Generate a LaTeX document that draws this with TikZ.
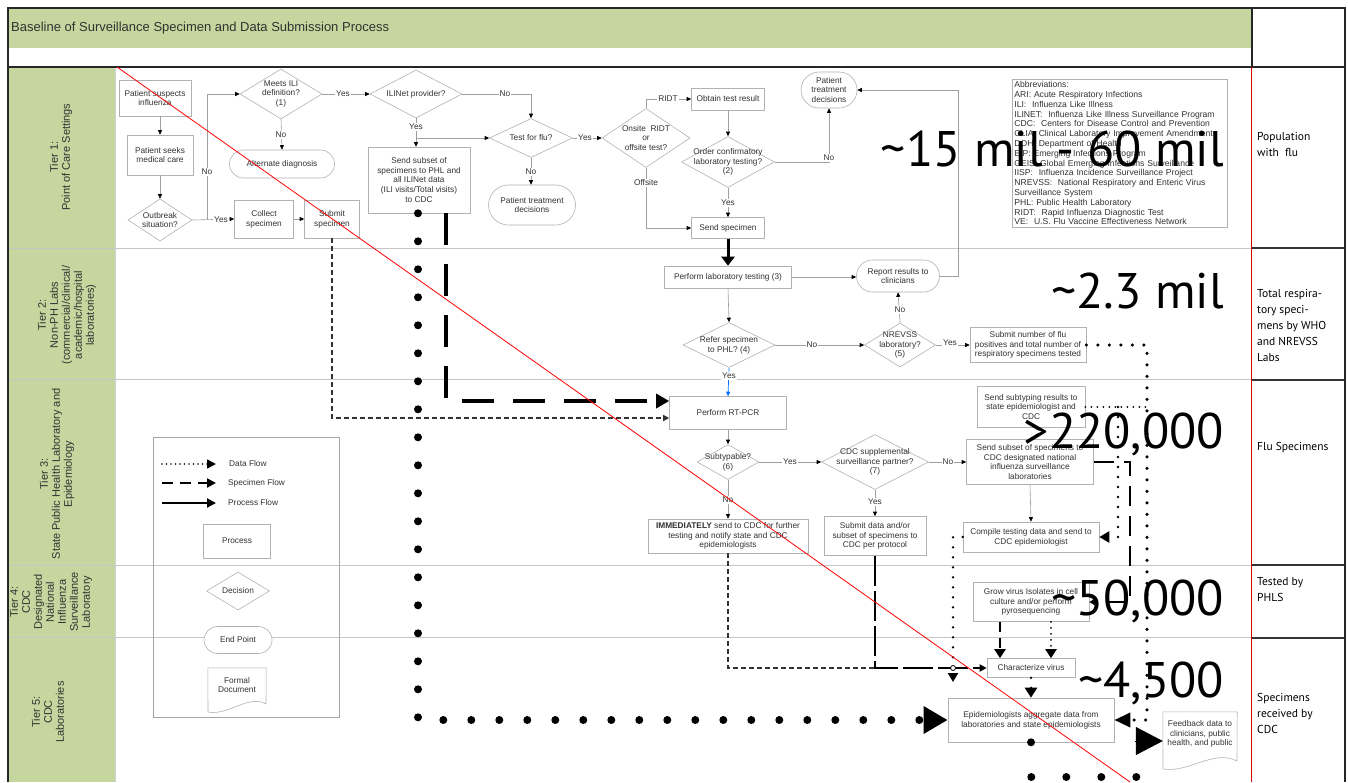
\documentclass[tikz,border=0pt]{standalone}
\usepackage{fontspec}
\setmainfont{Liberation Sans}
\newfontfamily\ptsans{PT Sans}
\usetikzlibrary{arrows.meta,shapes.geometric,shapes.misc,calc}
\definecolor{tgreen}{RGB}{197,214,158}
\definecolor{txtc}{RGB}{50,50,50}
\newcommand\nodef{\fontsize{8.3}{9.8}\selectfont}
\newcommand\tierf{\fontsize{11}{12}\selectfont}
\newcommand\rcolf{\ptsans\fontsize{11.5}{16}\selectfont}
\newcommand\bignumf{\ptsans\fontsize{50}{50}\selectfont}
\newcommand\mknode[6]{\node[#1, minimum width=#4pt, minimum height=#5pt] (#2) at (#3) {};
  \node[txt] (#2t) at (#2.center) {#6};}
\tikzset{
 proc/.style={rectangle, draw=gray!60, line width=0.6pt, fill=white, inner sep=0pt},
 dec/.style={diamond, draw=gray!60, line width=0.6pt, fill=white, inner sep=0pt},
 term/.style={rounded rectangle, draw=gray!60, line width=0.6pt, fill=white, inner sep=0pt},
 txt/.style={align=center, font=\nodef, text=txtc, inner sep=0pt},
 lbl/.style={font=\nodef, fill=white, inner sep=1pt, text=txtc},
 cn/.style={draw=gray!75, line width=0.6pt, -{Triangle[length=4.5pt,width=4pt,color=black]}},
 bigdot/.style={black, line width=8pt, line cap=round, dash pattern=on 0pt off 28pt},
 bigdotb/.style={black, line width=8pt, line cap=round, dash pattern=on 0pt off 35pt},
 dotm/.style={black, line width=3.5pt, line cap=round, dash pattern=on 0pt off 11.5pt},
 dotsm/.style={black, line width=2.6pt, line cap=round, dash pattern=on 0pt off 10pt},
 dotxs/.style={black, line width=2pt, line cap=round, dash pattern=on 0pt off 6pt},
 bigdash/.style={black, line width=4.5pt, dash pattern=on 32pt off 19pt},
 mdash/.style={black, line width=2.8pt, dash pattern=on 20pt off 10pt},
 ldash/.style={black, line width=2.2pt, dash pattern=on 30pt off 5pt},
 tdash/.style={black!80, line width=1.3pt, dash pattern=on 5pt off 3pt},
 tierl/.style={rotate=90, align=center, font=\tierf, text=txtc, inner sep=0pt},
 rtxt/.style={font=\rcolf, anchor=west, align=left, inner sep=0pt, text=black},
 bign/.style={font=\bignumf, anchor=base east, inner sep=0pt, text=black}
}
\begin{document}
\begin{tikzpicture}[x=1pt,y=-1pt]
\useasboundingbox (0,0) rectangle (1348,782);
\fill[white] (0,0) rectangle (1348,782);
\fill[tgreen] (9,9) rectangle (1251,48);
\fill[tgreen] (9,67) rectangle (115,782);
\node[anchor=west, font=\fontsize{13}{15}\selectfont, text=txtc, inner sep=0pt] (title) at (11,28) {Baseline of Surveillance Specimen and Data Submission Process};
% lanes
\foreach \yy in {248,379,565,637} \draw[gray!45, line width=0.8pt] (9,\yy) -- (1251,\yy);
\draw[gray!35, line width=0.6pt] (115,67) -- (115,782);
% tier labels
\node[tierl] (t1) at (61,157) {Tier 1:\\Point of Care Settings};
\node[tierl] (t2) at (67,315) {Tier 2:\\Non-PH Labs\\(commercial/clinical/\\academic/hospital\\laboratories)};
\node[tierl] (t3) at (57,474) {Tier 3:\\State Public Health Laboratory and\\Epidemiology};
\node[tierl] (t4) at (51,602) {Tier 4:\\CDC\\Designated\\National\\Influenza\\Surveillance\\Laboratory};
\node[tierl] (t5) at (48,712) {Tier 5:\\CDC\\Laboratories};
% tier 1 nodes
\mknode{proc}{psi}{155,98}{72}{36}{Patient suspects\\influenza}
\mknode{proc}{psm}{160,155}{66}{40}{Patient seeks\\medical care}
\mknode{dec}{ob}{160,220}{64}{42}{Outbreak\\situation?}
\mknode{dec}{ili}{281,94}{82}{50}{Meets ILI\\definition?\\(1)}
\mknode{term}{alt}{282,164}{105}{28}{Alternate diagnosis}
\mknode{proc}{col}{264,219}{59}{38}{Collect\\specimen}
\mknode{proc}{sub}{332,219}{55}{38}{Submit\\specimen}
\mknode{dec}{iln}{416,94}{92}{48}{ILINet provider?}
\mknode{proc}{ssp}{419,180}{102}{66}{Send subset of\\specimens to PHL and\\all ILINet data\\(ILI visits/Total visits)\\to CDC}
\mknode{dec}{tfl}{531,138}{83}{39}{Test for flu?}
\mknode{term}{ptd}{532,205}{87}{40}{Patient treatment\\decisions}
\mknode{dec}{ons}{646,138}{88}{59}{Onsite~ RIDT\\or\\offsite test?}
\mknode{proc}{otr}{728,99}{73}{22}{Obtain test result}
\mknode{dec}{ocf}{728,162}{93}{51}{Order confirmatory\\laboratory testing?\\(2)}
\mknode{proc}{ssn}{728,228}{73}{21}{Send specimen}
\mknode{term}{ptd2}{829,90}{56}{36}{Patient\\treatment\\decisions}
\node[draw=gray!60, line width=0.8pt, anchor=north west, inner sep=2pt, text width=211pt, align=left, font=\fontsize{8.6}{9.8}\selectfont, text=txtc] (abbr) at (1012,79) {Abbreviations:\\ARI: Acute Respiratory Infections\\ILI:~ Influenza Like Illness\\ILINET:~ Influenza Like Illness Surveillance Program\\CDC:~ Centers for Disease Control and Prevention\\CLIA: Clinical Laboratory Improvement Amendments\\DOH: Department of Health\\EIP: Emerging Infections Program\\GEIS: Global Emerging Infections Surveillance\\IISP:~ Influenza Incidence Surveillance Project\\NREVSS:~ National Respiratory and Enteric Virus\\Surveillance System\\PHL: Public Health Laboratory\\RIDT:~ Rapid Influenza Diagnostic Test\\VE:~ U.S. Flu Vaccine Effectiveness Network};
% tier 2 nodes
\mknode{proc}{plt}{728,277}{127}{22}{Perform laboratory testing (3)}
\mknode{term}{rrc}{898,276}{83}{32}{Report results to\\clinicians}
\mknode{dec}{rsp}{729,345}{92}{45}{Refer specimen\\to PHL? (4)}
\mknode{dec}{nrv}{900,345}{71}{44}{NREVSS\\laboratory?\\(5)}
\mknode{proc}{snf}{1028,345}{116}{35}{Submit number of flu\\positives and total number of\\respiratory specimens tested}
% tier 3 nodes
\mknode{proc}{rtp}{728,413}{117}{33}{Perform RT-PCR}
\mknode{dec}{stp}{728,462}{62}{35}{Subtypable?\\(6)}
\mknode{dec}{csp}{875,462}{107}{55}{CDC supplemental\\surveillance partner?\\(7)}
\mknode{proc}{ssc}{1030,462}{127}{45}{Send subset of specimens to\\CDC designated national\\influenza surveillance\\laboratories}
\mknode{proc}{sst}{1031,407}{108}{41}{Send subtyping results to\\state epidemiologist and\\CDC}
\mknode{proc}{imm}{728,536}{160}{34}{\textbf{IMMEDIATELY} send to CDC for further\\testing and notify state and CDC\\epidemiologists}
\mknode{proc}{sdt}{875,536}{102}{39}{Submit data and/or\\subset of specimens to\\CDC per protocol}
\mknode{proc}{cmp}{1031,537}{136}{30}{Compile testing data and send to\\CDC epidemiologist}
% tier 4/5 nodes
\mknode{proc}{grw}{1031,602}{116}{39}{Grow virus Isolates in cell\\culture and/or perform\\pyrosequencing}
\mknode{proc}{chr}{1031,668}{88}{19}{Characterize virus}
\mknode{proc}{epi}{1031,720}{166}{44}{Epidemiologists aggregate data from\\laboratories and state epidemiologists}
\node[minimum width=74pt, minimum height=58pt, inner sep=0pt] (fbk) at (1200,741) {};
\draw[gray!60, line width=0.6pt, fill=white] (fbk.north west) -- (fbk.north east) -- (1237,761) .. controls (1213,749) and (1190,773) .. (1163,769) -- cycle;
\node[txt] (fbkt) at (1200,734) {Feedback data to\\clinicians, public\\health, and public};
% tier 1 connectors
\draw[cn] (psi.south -| psm) -- (psm.north);
\draw[cn] (psm.south) -- (ob.north);
\coordinate (j1) at (207,220);
\draw[cn] (ob.east) -- (col.west);
\draw[cn] (j1) |- (ili.west);
\node[lbl] (l1) at (221,220) {Yes};
\node[lbl] (l2) at (207,172) {No};
\draw[cn] (ili.east) -- (iln.west);
\node[lbl] (l3) at (343,94) {Yes};
\draw[cn] (ili.south) -- (alt.north);
\node[lbl] (l4) at (281,135) {No};
\draw[cn] (col.east) -- (sub.west);
\draw[cn] (iln.south) -- (iln.south |- ssp.north);
\node[lbl] (l5) at (416,127) {Yes};
\coordinate (j2) at (416,138);
\draw[cn] (j2) -- (tfl.west);
\draw[cn] (iln.east) -| (tfl.north);
\node[lbl] (l6) at (505,94) {No};
\draw[cn] (tfl.east) -- (ons.west);
\node[lbl] (l7) at (585,138) {Yes};
\draw[cn] (tfl.south) -- (tfl.south |- ptd.north);
\node[lbl] (l8) at (531,172) {No};
\draw[cn] (ons.north) |- (otr.west);
\node[lbl] (l9) at (668,99) {RIDT};
\draw[cn] (ons.south) |- (ssn.west);
\node[lbl] (l10) at (646,183) {Offsite};
\draw[cn] (otr.south) -- (ocf.north);
\draw[cn] (ocf.south) -- (ssn.north);
\node[lbl] (l11) at (728,203) {Yes};
\draw[cn] (ocf.east) -| (ptd2.south);
\node[lbl] (l12) at (829,158) {No};
\draw[black, line width=3pt, -{Triangle[length=9pt,width=13pt]}] (ssn.south) -- (plt.north);
% tier 2 connectors
\draw[cn] (plt.east) -- (plt.east -| rrc.west);
\coordinate (r1c) at (958,276);
\draw[cn] (rrc.east) -- (r1c) |- (ptd2.east);
\draw[cn] (plt.south) -- (rsp.north);
\draw[cn] (rsp.east) -- (nrv.west);
\node[lbl] (l13) at (812,345) {No};
\draw[cn] (nrv.north) -- (rrc.south);
\node[lbl] (l14) at (900,310) {No};
\draw[cn] (nrv.east) -- (snf.west);
\node[lbl] (l15) at (950,343) {Yes};
\draw[draw=blue!55!cyan, line width=0.7pt, -{Triangle[length=4.5pt,width=4pt,color=blue!60!cyan]}] (rsp.south) -- (rtp.north);
\node[lbl] (l16) at (729,376) {Yes};
% tier 3 connectors
\draw[cn] (rtp.south) -- (stp.north);
\draw[cn] (stp.east) -- (csp.west);
\node[lbl] (l17) at (790,462) {Yes};
\draw[cn] (csp.east) -- (ssc.west);
\node[lbl] (l18) at (948,462) {No};
\draw[cn] (stp.south) -- (imm.north);
\node[lbl] (l19) at (728,500) {No};
\draw[cn] (csp.south) -- (sdt.north);
\node[lbl] (l20) at (875,502) {Yes};
\draw[cn] (ssc.south) -- (cmp.north);
% specimen flows
\coordinate (c1) at (446,401);
\draw[bigdash, -{Triangle[length=13pt,width=14pt]}] (ssp.south -| c1) -- (c1) -- (c1 -| rtp.west);
\coordinate (c2) at (332,418);
\draw[tdash, -{Triangle[length=6pt,width=6pt]}] (sub.south) -- (c2) -- (c2 -| rtp.west);
\coordinate (c4) at (875,668);
\draw[tdash] (imm.south) |- (c4);
\draw[ldash, -{Triangle[length=7pt,width=7pt]}] (sdt.south) -- (c4) -- (chr.west);
\coordinate (c5) at (1130,462);
\coordinate (c6) at (1130,602);
\draw[mdash, -{Triangle[length=7pt,width=8pt]}] (ssc.east) -- (c5) -- (c6) -- (grw.east);
\draw[black, line width=2.4pt, dash pattern=on 10pt off 6pt, -{Triangle[length=9pt,width=11pt]}] ($(grw.south)+(-31,0)$) -- ($(chr.north)+(-31,0)$);
\draw[dotxs, -{Triangle[length=9pt,width=11pt]}] ($(grw.south)+(20,0)$) -- ($(chr.north)+(20,0)$);
% data flows
\coordinate (d1) at (418,720);
\draw[bigdot, -{Triangle[length=24pt,width=26pt]}] (ssp.south -| d1) -- (d1) -- (epi.west);
\coordinate (d2) at (1147,345);
\coordinate (d3) at (1147,720);
\draw[dotm, -{Triangle[length=16pt,width=14pt]}] (snf.east) -- (d2) -- (d3) -- (epi.east);
\coordinate (d4) at (1147,407);
\coordinate (d5) at (1118,407);
\draw[dotxs] (sst.east) -- (d4);
\draw[dotsm, -{Triangle[length=10pt,width=11pt]}] (d5) |- (cmp.east);
\coordinate (d6) at (953,537);
\coordinate (d7) at (953,682);
\draw[dotsm, -{Triangle[length=9pt,width=10pt]}] (cmp.west) -- (d6) -- (d7);
\node[circle, draw=black, fill=white, inner sep=0pt, minimum size=5pt, line width=0.8pt] (jn) at (953,668) {};
\draw[dotsm, -{Triangle[length=10pt,width=12pt]}] (chr.south) -- (epi.north);
\coordinate (d8) at (1031,777);
\coordinate (d9) at (1137,777);
\coordinate (d10) at (1137,752);
\coordinate (d11) at (1135,741);
\draw[bigdotb] (epi.south) -- (d8) -- (d9) -- (d10);
\draw[black, line width=0.5pt, -{Triangle[length=27pt,width=28pt]}] (d11) -- (fbk.west);
% legend
\node[draw=gray!70, line width=0.7pt, minimum width=186pt, minimum height=280pt, inner sep=0pt, anchor=north west] (lgd) at (153,437) {};
\coordinate (la1) at (162,464); \coordinate (lb1) at (216,464);
\coordinate (la2) at (162,483); \coordinate (lb2) at (216,483);
\coordinate (la3) at (162,503); \coordinate (lb3) at (216,503);
\draw[black, line width=1.6pt, line cap=round, dash pattern=on 0pt off 4.5pt, -{Triangle[length=9pt,width=9pt]}] (la1) -- (lb1);
\draw[black, line width=2pt, dash pattern=on 11pt off 7pt, -{Triangle[length=9pt,width=9pt]}] (la2) -- (lb2);
\draw[black, line width=2pt, -{Triangle[length=9pt,width=9pt]}] (la3) -- (lb3);
\node[anchor=west, font=\nodef, text=txtc, inner sep=0pt] (lt1) at (229,464) {Data Flow};
\node[anchor=west, font=\nodef, text=txtc, inner sep=0pt] (lt2) at (228,483) {Specimen Flow};
\node[anchor=west, font=\nodef, text=txtc, inner sep=0pt] (lt3) at (228,503) {Process Flow};
\mknode{proc}{lproc}{237,541}{67}{34}{Process}
\mknode{dec}{ldec}{238,591}{63}{38}{Decision}
\mknode{term}{lend}{238,640}{68}{27}{End Point}
\node[minimum width=58pt, minimum height=44pt, inner sep=0pt] (ldoc) at (237,690) {};
\draw[gray!60, line width=0.6pt, fill=white] (ldoc.north west) -- (ldoc.north east) -- (266,704) .. controls (249,694) and (228,716) .. (208,712) -- cycle;
\node[txt] (ldoct) at (237,685) {Formal\\Document};
% big numbers
\node[bign] (n1) at (1224,166) {\textasciitilde15 mil - 60 mil};
\node[bign] (n2) at (1224,308) {\textasciitilde2.3 mil};
\node[bign] (n3) at (1224,448) {>220,000};
\node[bign] (n4) at (1224,615) {\textasciitilde50,000};
\node[bign] (n5) at (1224,697) {\textasciitilde4,500};
% right column
\node[rtxt] (rc1) at (1257,144) {Population\\with\ \ flu};
\node[rtxt] (rc2) at (1257,325) {Total respira-\\tory speci-\\mens by WHO\\and NREVSS\\Labs};
\node[rtxt] (rc3) at (1257,448) {Flu Specimens};
\node[rtxt] (rc4) at (1257,590) {Tested by\\PHLS};
\node[rtxt] (rc5) at (1257,713) {Specimens\\received by\\CDC};
% frame
\draw[black!85, line width=2pt] (8,67) -- (1345,67);
\draw[black!85, line width=1.2pt] (1252,8) -- (1252,67);
\foreach \yy in {248,380,565,638} \draw[black!80, line width=1.2pt] (1252,\yy) -- (1345,\yy);
\draw[red!85!black, line width=1pt] (1251,67) -- (1251,782);
\draw[red, line width=0.8pt] (117,67) -- (1130,782);
\draw[black!85, line width=2.6pt] (8,782) -- (8,8) -- (1345,8) -- (1345,782);
\end{tikzpicture}
\end{document}
